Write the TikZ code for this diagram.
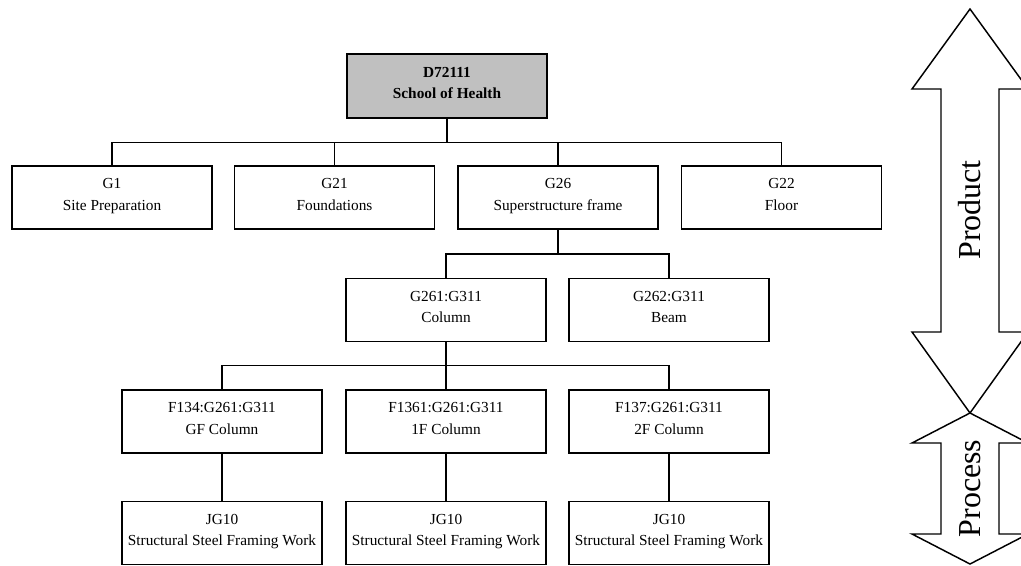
\documentclass[tikz,border=0pt]{standalone}
\usepackage{fontspec}
\setmainfont{Liberation Serif}
\definecolor{rootgray}{RGB}{192,192,192}

\begin{document}
\begin{tikzpicture}[x=0.75pt, y=-0.75pt,
box/.style={draw, line width=1.1pt, minimum width=150pt, minimum height=47.5pt,
  align=center, inner sep=2pt, execute at end node=\strut,
  font=\fontsize{11.5}{16}\selectfont},
root/.style={box, fill=rootgray, minimum height=48pt, font=\fontsize{11.5}{16}\selectfont\bfseries},
link/.style={black, line width=1.1pt},
band/.style={draw, line width=1.1pt, fill=white},
bandtext/.style={rotate=90, font=\fontsize{24}{28}\selectfont}]

\useasboundingbox (0,0) rectangle (1021,565);
\clip (0,0) rectangle (1021,565);

% TREE NODES
\node[root] (top) at (447,86) {D72111\\School of Health};

\node[box] (g1)  at (112,197.5)   {G1\\Site Preparation};
\node[box] (g21) at (334.5,197.5) {G21\\Foundations};
\node[box] (g26) at (558,197.5)   {G26\\Superstructure frame};
\node[box] (g22) at (781.5,197.5) {G22\\Floor};

\node[box] (col)  at (446,310) {G261:G311\\Column};
\node[box] (beam) at (669,310) {G262:G311\\Beam};

\node[box] (gf) at (222,421.5) {F134:G261:G311\\GF Column};
\node[box] (f1) at (446,421.5) {F1361:G261:G311\\1F Column};
\node[box] (f2) at (669,421.5) {F137:G261:G311\\2F Column};

\node[box] (wgf) at (222,533) {JG10\\Structural Steel Framing Work};
\node[box] (wf1) at (446,533) {JG10\\Structural Steel Framing Work};
\node[box] (wf2) at (669,533) {JG10\\Structural Steel Framing Work};

% CONNECTORS
\foreach \c in {g1,g21,g26,g22}
    \draw[link] (top.south) -- ++(0,24) -| (\c.north);
\foreach \c in {col,beam}
    \draw[link] (g26.south) -- ++(0,24) -| (\c.north);
\foreach \c in {gf,f1,f2}
    \draw[link] (col.south) -- ++(0,23) -| (\c.north);
\draw[link] (gf.south) -- (wgf.north);
\draw[link] (f1.south) -- (wf1.north);
\draw[link] (f2.south) -- (wf2.north);

% product / process arrows
\draw[band] (970,9) -- (1028,89) -- (999,89) -- (999,332) -- (1028,332)
  -- (970,413) -- (912,332) -- (941,332) -- (941,89) -- (912,89) -- cycle;
\draw[band] (970,413) -- (1028,443) -- (999,443) -- (999,534) -- (1028,534)
  -- (970,564) -- (912,534) -- (941,534) -- (941,443) -- (912,443) -- cycle;
\node[bandtext] (product) at (970,210) {Product};
\node[bandtext] (process) at (970,488.5) {Process};

\end{tikzpicture}
\end{document}
